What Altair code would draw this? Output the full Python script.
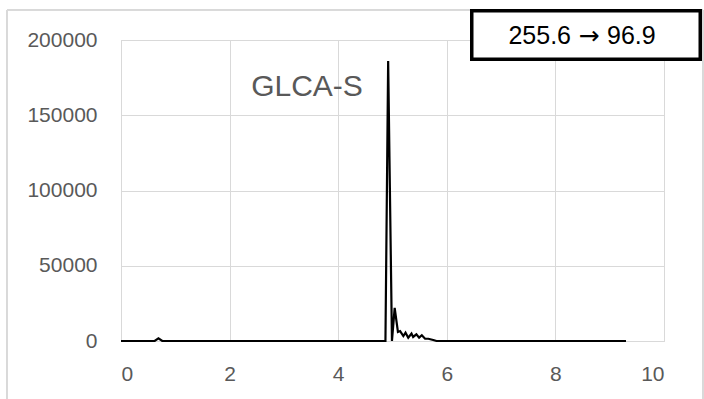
import altair as alt
import pandas as pd

# Chromatogram trace (retention time, intensity)
times = [0, 0.62, 0.69, 0.76, 4.87, 4.92, 4.99, 5.04, 5.10, 5.14, 5.20, 5.24, 5.29,
         5.35, 5.38, 5.44, 5.49, 5.54, 5.60, 5.66, 5.75, 5.81, 9.3]
intensity = [0, 0, 1800, 0, 0, 186000, 0, 22000, 6000, 6600, 3300, 5500, 2200,
             4900, 2700, 4400, 2200, 3800, 1500, 1500, 700, 0, 0]

x_ticks = [0, 2, 4, 6, 8, 10]
y_ticks = [0, 50000, 100000, 150000, 200000]

label_text = "GLCA-S"
box_left = "255.6"
box_arrow = "\u2192"
box_right = "96.9"

df = pd.DataFrame({"t": times, "v": intensity})

W, H = 543, 301
PL, PT, PR, PB = 121, 40, 40, 58

grid = "#d9d9d9"
lab = "#595959"
font = "Liberation Sans"

line = alt.Chart(df).mark_line(color="black", strokeWidth=2.2, strokeJoin="miter").encode(
    x=alt.X("t:Q", scale=alt.Scale(domain=[0, 10], nice=False),
            axis=alt.Axis(values=x_ticks, title=None, grid=True, gridColor=grid,
                          domainColor=grid, ticks=False, labelColor=lab,
                          labelFontSize=21, labelFont=font, labelPadding=22)),
    y=alt.Y("v:Q", scale=alt.Scale(domain=[0, 200000], nice=False),
            axis=alt.Axis(values=y_ticks, title=None, grid=True, gridColor=grid,
                          domainColor=grid, ticks=False, labelColor=lab, format="d",
                          labelFontSize=21, labelFont=font, labelPadding=24)),
)

border = alt.Chart(df).mark_rect(fill=None, stroke=grid, strokeWidth=1).encode(
    x=alt.value(7 - PL), x2=alt.value(703 - PL),
    y=alt.value(10 - PT), y2=alt.value(420 - PT),
)

box = alt.Chart(df).mark_rect(fill="white", stroke="black", strokeWidth=3).encode(
    x=alt.value(472 - PL), x2=alt.value(700 - PL),
    y=alt.value(11 - PT), y2=alt.value(59 - PT),
)

def txt(s, x, y, size, color, f, align="center", baseline="middle"):
    return alt.Chart(pd.DataFrame({"s": [s]})).mark_text(
        font=f, fontSize=size, color=color, align=align, baseline=baseline
    ).encode(text="s:N", x=alt.value(x - PL), y=alt.value(y - PT))

box_l = txt(box_left, 571, 44, 25, "black", font, align="right", baseline="alphabetic")
box_a = txt(box_arrow, 589, 44, 25, "black", "DejaVu Sans", align="center", baseline="alphabetic")
box_r = txt(box_right, 607, 44, 25, "black", font, align="left", baseline="alphabetic")

name_label = txt(label_text, 307, 96, 30, lab, font, baseline="alphabetic")

chart = alt.layer(border, line, box, box_l, box_a, box_r, name_label).properties(
    width=W, height=H,
    padding={"left": PL, "top": PT, "right": PR, "bottom": PB},
    autosize=alt.AutoSizeParams(type="none"),
).configure_view(stroke=None).configure(background="white")

chart.save("out.html", embed_options={"renderer": "svg", "actions": False})
